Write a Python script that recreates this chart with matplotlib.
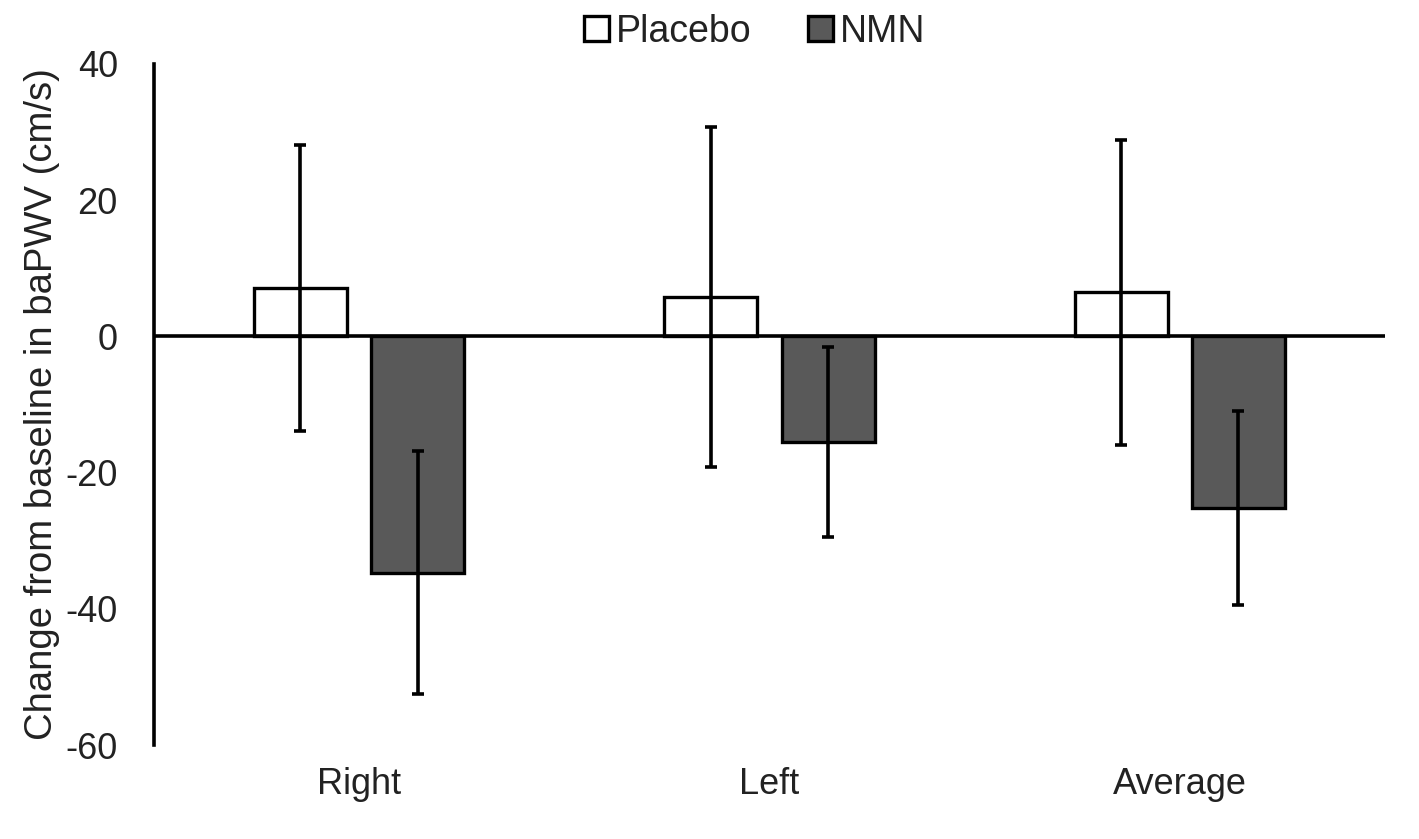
import numpy as np
import matplotlib.pyplot as plt
from matplotlib.patches import Patch

plt.rcParams['font.family'] = ['Liberation Sans', 'DejaVu Sans']
plt.rcParams['axes.unicode_minus'] = False

#values (cm/s)
categories = ['Right', 'Left', 'Average']
placebo_mean = [7.1, 5.8, 6.5]
placebo_sd = [21.0, 25.0, 22.4]
nmn_mean = [-34.7, -15.5, -25.2]
nmn_sd = [17.8, 14.0, 14.3]

x = np.arange(len(categories))
width = 0.227
offset = 0.143
txt = '#222222'

fig = plt.figure(figsize=(14.19, 8.39), dpi=100)
ax = fig.add_axes([0.1085, 0.112, 0.8675, 0.8118])

err_kw = dict(ecolor='black', elinewidth=2.6, capsize=4, capthick=2.6)
ax.bar(x-offset, placebo_mean, width, color='white', edgecolor='black', linewidth=2.4,
       yerr=placebo_sd, error_kw=err_kw, zorder=2)
ax.bar(x+offset, nmn_mean, width, color='#595959', edgecolor='black', linewidth=2.4,
       yerr=nmn_sd, error_kw=err_kw, zorder=2)
ax.axhline(0, color='black', lw=2.6, zorder=3)

ax.set_xlim(-0.5, 2.5)
ax.set_ylim(-60, 40)
ax.set_yticks([-60, -40, -20, 0, 20, 40])
ax.set_xticks(x)
ax.set_xticklabels(categories)
ax.tick_params(axis='y', length=0, pad=26, labelsize=26, labelcolor=txt)
ax.tick_params(axis='x', length=0, pad=16, labelsize=26, labelcolor=txt)
for s in ['top', 'right', 'bottom']:
    ax.spines[s].set_visible(False)
ax.spines['left'].set_linewidth(2.6)
ax.set_ylabel('Change from baseline in baPWV (cm/s)', fontsize=27.5, color=txt, labelpad=4)

handles = [Patch(facecolor='white', edgecolor='black', linewidth=2.4),
           Patch(facecolor='#595959', edgecolor='black', linewidth=2.4)]
fig.legend(handles, ['Placebo', 'NMN'], loc='upper center', bbox_to_anchor=(0.532, 1.01),
           ncol=2, frameon=False, fontsize=27, handlelength=0.65, handleheight=0.65,
           handletextpad=0.2, columnspacing=1.5, borderaxespad=0.2, labelcolor=txt)

plt.savefig('out.png', dpi=100)
